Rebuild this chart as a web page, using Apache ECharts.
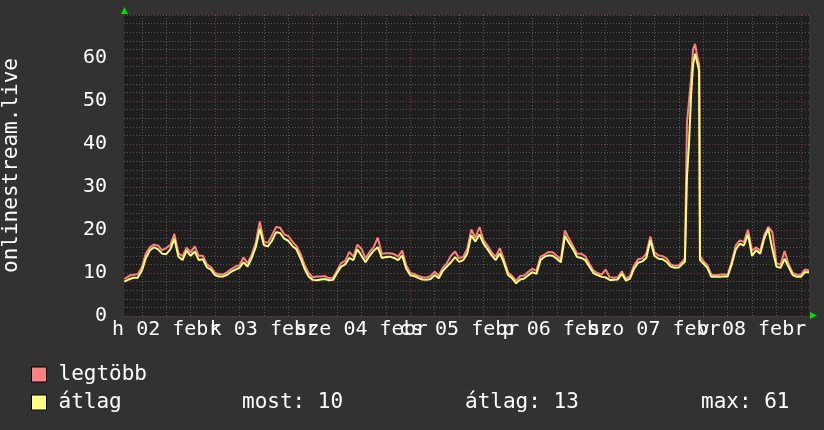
<!DOCTYPE html>
<html><head><meta charset="utf-8">
<script src="https://cdn.jsdelivr.net/npm/echarts@6/dist/echarts.min.js"></script>
<style>html,body{margin:0;padding:0;background:#323232;}#c{width:824px;height:430px;}</style>
</head><body><div id="c"></div>
<script>
// hours since 02 febr 00:00
const hours = [1.7,
 2,3,4,5,6,7,8,9,10,11,
 12,13,14,15,16,17,18,19,20,21,
 22,23,24,25,26,27,28,29,30,31,
 32,33,34,35,36,37,38,39,40,41,
 42,43,44,45,46,47,48,49,50,51,
 52,53,54,55,56,57,58,59,60,61,
 62,63,64,65,66,67,68,69,70,71,
 72,73,74,75,76,77,78,79,80,81,
 82,83,84,85,86,87,88,89,90,91,
 92,93,94,95,96,97,98,99,100,101,
 102,103,104,105,106,107,108,109,110,111,
 112,113,114,115,116,117,118,119,120,121,
 122,123,124,125,126,127,128,129,130,131,
 132,133,134,135,136,137,138,139,
 139.5,140,140.5,141,141.5,142,142.5,143,143.2,
 144,145,146,147,148,149,150,151,152,153,
 154,155,156,157,158,159,160,161,162,163,
 164,165,166,167,168,169,170];

const maxVals = [8.6,
 8.8,9.4,9.6,9.7,11.3,14.6,16.0,16.6,16.4,15.3,
 15.8,16.5,19.1,14.6,13.9,15.9,14.8,16.2,14.0,14.0,
 12.0,11.4,10.0,9.7,9.7,10.2,10.9,11.5,11.8,13.6,
 12.3,14.2,17.0,22.0,17.3,17.0,18.8,20.7,20.5,19.0,
 18.6,17.3,16.3,14.5,11.9,10.0,9.0,9.2,9.2,9.3,
 8.8,8.9,10.6,12.3,12.8,14.9,13.8,16.6,15.6,13.4,
 14.9,16.0,18.2,14.5,14.6,14.6,14.4,13.8,15.2,11.8,
 10.0,9.8,9.3,9.0,8.9,9.3,10.3,9.4,11.2,12.3,
 14.0,15.0,13.4,13.8,15.6,20.1,18.2,20.7,17.6,16.3,
 14.8,13.8,15.8,13.2,10.2,9.3,8.2,9.3,9.4,10.3,
 11.0,10.5,13.8,14.3,14.9,14.8,14.0,13.2,19.9,18.0,
 16.3,14.5,14.5,13.9,12.2,10.6,10.0,9.6,10.8,9.0,
 8.9,9.0,10.4,8.7,9.3,11.8,13.2,13.4,14.5,18.5,
 14.8,14.1,13.9,13.4,12.0,11.7,11.8,12.8,
 13.4,45,50,55,62,63.3,60.5,58.5,14,
 12.8,11.8,9.6,9.5,9.6,9.7,9.6,12.6,16.4,17.6,
 17.2,20.1,15.2,16.0,15.2,18.8,20.7,19.5,12.3,11.9,
 15.1,12.0,10.0,9.6,9.6,10.8,10.6];

const avgVals = [8.0,
 8.3,8.6,8.9,8.9,10.5,13.5,15.3,16.0,15.5,14.5,
 14.4,15.5,18.0,13.8,13.0,15.2,14.0,15.0,13.0,13.2,
 11.3,10.8,9.5,9.2,9.2,9.6,10.3,10.8,11.2,12.5,
 11.5,13.5,16.0,20.3,16.5,16.2,17.5,19.5,19.3,18.0,
 17.5,16.3,15.5,13.5,11.0,9.2,8.4,8.3,8.5,8.6,
 8.3,8.4,10.0,11.5,12.0,13.5,13.0,15.5,14.0,12.5,
 14.0,15.2,16.0,13.5,13.7,13.8,13.5,13.0,14.1,11.0,
 9.5,9.3,8.8,8.5,8.4,8.6,9.5,8.8,10.5,11.5,
 12.5,13.7,12.6,13.0,14.5,18.8,17.3,19.0,16.8,15.5,
 14.1,13.0,14.6,12.4,9.6,8.8,7.6,8.5,8.7,9.5,
 10.2,9.8,13.0,13.8,14.1,14.0,13.3,12.5,18.6,17.0,
 15.5,13.7,13.5,13.0,11.5,10.0,9.5,9.1,9.0,8.4,
 8.4,8.5,9.8,8.2,8.7,11.0,12.4,12.7,13.5,17.6,
 14.0,13.3,13.2,12.6,11.5,11.2,11.3,12.2,
 12.6,32.3,40,51,58.5,61,59,57,13,
 12.2,11.2,9.1,9.1,9.1,9.2,9.2,12.0,15.5,16.8,
 16.4,19.0,14.0,15.3,14.5,18.0,20.3,15.5,11.5,11.2,
 13.3,11.4,9.5,9.1,9.1,10.2,10.2];

const seriesNames = ['legtöbb', 'átlag'];
const dayLabels = ['h 02 febr','k 03 febr','sze 04 febr','cs 05 febr','p 06 febr','szo 07 febr','v 08 febr'];
const labelHours = [12,36,60,84,108,132,156];
const dayHours = [24,48,72,96,120,144,168];
const statNames = ['most','átlag','max'];
const statValues = [10,13,61];
const yTitle = 'onlinestream.live';

const X_MIN = 1.62, X_MAX = 170, Y_MAX = 70;
const FONT = '"DejaVu Sans Mono", monospace';
const minorX = []; for (let h = 6; h <= 168; h += 6) if (h % 24) minorX.push(h);
const minorY = []; for (let v = 2; v < Y_MAX; v += 2) if (v % 10) minorY.push(v);
// labels split into two alternating axes so neighbouring labels are free to overlap, as in the original
const labelsA = labelHours.filter((h, i) => i % 2 === 0);
const labelsB = labelHours.filter((h, i) => i % 2 === 1);

const chart = echarts.init(document.getElementById('c'), null, {renderer: 'canvas', width: 824, height: 430});
const pairs = vals => hours.map((h, i) => [h, vals[i]]);
const statX = [242, 465, 701];

const labelAxis = (vals) => ({type: 'value', min: X_MIN, max: X_MAX, position: 'bottom',
  axisLine: {show: false}, axisTick: {show: false}, splitLine: {show: false},
  axisLabel: {show: true, customValues: vals, formatter: v => dayLabels[labelHours.indexOf(v)],
    color: '#ffffff', fontFamily: FONT, fontSize: 20, margin: 4, hideOverlap: false,
    showMinLabel: true, showMaxLabel: true}});

chart.setOption({
  backgroundColor: '#323232',
  animation: false,
  grid: {left: 124, top: 15, width: 685, height: 301, show: true, backgroundColor: '#1f1f1f', borderWidth: 0, outerBoundsMode: 'none', containLabel: false},
  xAxis: [
    {type: 'value', min: X_MIN, max: X_MAX, position: 'bottom',
     axisLine: {show: false}, axisTick: {show: false, customValues: minorX}, axisLabel: {show: false},
     splitLine: {show: true, lineStyle: {color: '#575757', width: 1, type: [1, 2]}}},
    {type: 'value', min: X_MIN, max: X_MAX, position: 'bottom',
     axisLine: {show: false}, axisTick: {show: false, customValues: dayHours}, axisLabel: {show: false},
     splitLine: {show: true, lineStyle: {color: '#7a3c3c', width: 1, type: [1, 2]}}},
    labelAxis(labelsA),
    labelAxis(labelsB)
  ],
  yAxis: [
    {type: 'value', min: 0, max: Y_MAX, position: 'left',
     axisLine: {show: false}, axisTick: {show: false, customValues: minorY}, axisLabel: {show: false},
     splitLine: {show: true, lineStyle: {color: '#575757', width: 1, type: [1, 2]}}},
    {type: 'value', min: 0, max: Y_MAX, interval: 10, position: 'left',
     axisLine: {show: false}, axisTick: {show: false},
     axisLabel: {color: '#ffffff', fontFamily: FONT, fontSize: 20, margin: 17,
       formatter: v => (v >= Y_MAX ? '' : String(v))},
     splitLine: {show: true, lineStyle: {color: '#7a3c3c', width: 1, type: [1, 2]}},
     name: yTitle, nameLocation: 'middle', nameRotate: 90, nameGap: 102,
     nameTextStyle: {color: '#ffffff', fontFamily: FONT, fontSize: 21}}
  ],
  legend: {orient: 'vertical', left: 26, top: 359, itemWidth: 15, itemHeight: 15, itemGap: 7, icon: 'rect',
    selectedMode: false, data: seriesNames,
    itemStyle: {borderColor: '#000000', borderWidth: 1},
    textStyle: {color: '#ffffff', fontFamily: FONT, fontSize: 21, padding: [0, 0, 0, 7]}},
  graphic: statNames.map((n, i) => ({type: 'text', left: statX[i], top: 392,
      style: {text: n + ': ' + statValues[i], fill: '#ffffff', font: '21px "DejaVu Sans Mono"'}}))
    .concat([
      {type: 'polygon', shape: {points: [[121, 14], [128, 14], [124.5, 7]]}, style: {fill: '#00dd00'}},
      {type: 'polygon', shape: {points: [[810, 312], [810, 319], [817, 315.5]]}, style: {fill: '#00dd00'}}
    ]),
  series: [
    {name: seriesNames[0], type: 'line', data: pairs(maxVals), showSymbol: false, symbol: 'none',
     color: '#ff8080', lineStyle: {color: '#ff7f7f', width: 2}, z: 3},
    {name: seriesNames[1], type: 'line', data: pairs(avgVals), showSymbol: false, symbol: 'none',
     color: '#ffff80', lineStyle: {color: '#ffff7a', width: 2}, z: 4}
  ]
});
</script></body></html>
